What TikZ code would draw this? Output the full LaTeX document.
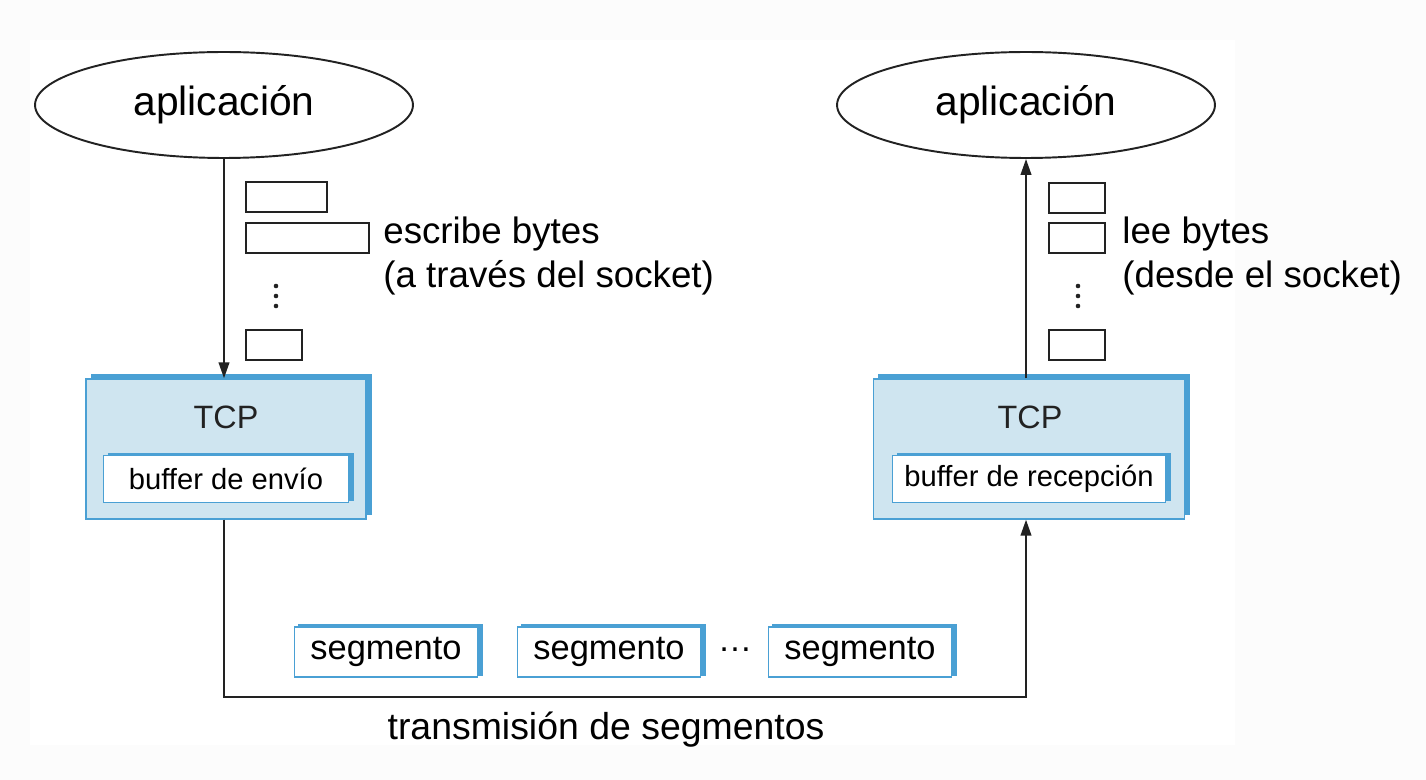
\documentclass[tikz,border=0pt]{standalone}
\usepackage{fontspec}
\setmainfont{Liberation Sans}
\usetikzlibrary{shapes.geometric,arrows.meta,shadows}
\definecolor{tcpfill}{RGB}{207,229,240}
\definecolor{tcpblue}{RGB}{74,160,212}
\definecolor{linegray}{RGB}{34,34,34}
\begin{document}
\begin{tikzpicture}[x=0.02cm,y=-0.02cm,
    app/.style={ellipse,draw=linegray,line width=1.1pt,inner sep=0pt,
        minimum width=7.56cm,minimum height=2.12cm,font=\fontsize{23.2}{27}\selectfont},
    tcpbox/.style={rectangle,draw=tcpblue,fill=tcpfill,line width=0.8pt,
        minimum height=2.8cm,
        drop shadow={shadow xshift=3pt,shadow yshift=2.6pt,fill=tcpblue,draw=tcpblue,opacity=1}},
    bufbox/.style={rectangle,draw=tcpblue,fill=white,line width=0.8pt,inner sep=0pt,
        minimum height=0.94cm,font=\fontsize{16.6}{20}\selectfont,
        drop shadow={shadow xshift=3pt,shadow yshift=1.2pt,fill=tcpblue,draw=tcpblue,opacity=1}},
    segbox/.style={rectangle,draw=tcpblue,fill=white,line width=0.8pt,inner sep=0pt,
        minimum width=3.66cm,minimum height=1.0cm,font=\fontsize{19.6}{23}\selectfont,
        drop shadow={shadow xshift=2.6pt,shadow yshift=1.2pt,fill=tcpblue,draw=tcpblue,opacity=1}},
    databox/.style={rectangle,draw=linegray,line width=0.8pt,inner sep=0pt,minimum height=0.6cm},
    tcplbl/.style={text=linegray,font=\fontsize{18.4}{22}\selectfont},
    sidelbl/.style={anchor=west,align=left,inner sep=0pt,font=\fontsize{20.9}{25}\selectfont},
    arr/.style={draw=linegray,line width=1.1pt,-{Triangle[length=9pt,width=6pt]}}]
    \useasboundingbox (0,0) rectangle (1426,780);
    \fill[gray!2.5] (0,0) rectangle (1426,780);
    \fill[white] (30,40) rectangle (1235,745);

    % aplicaciones
    \node[app] (appL) at (224,105) {aplicación};
    \node[app] (appR) at (1026,105) {aplicación};

    % TCP
    \node[tcpbox,minimum width=5.6cm] (tcpL) at (226,449) {};
    \node[tcpbox,minimum width=6.22cm] (tcpR) at (1029,449) {};
    \node[tcplbl] (tcpLlbl) at (226,417) {TCP};
    \node[tcplbl] (tcpRlbl) at (1030,417) {TCP};
    \node[bufbox,minimum width=4.9cm] (bufL) at (226,479) {buffer de envío\hspace{10pt}};
    \node[bufbox,minimum width=5.46cm] (bufR) at (1029,479) {buffer de recepción};

    % bytes
    \node[databox,minimum width=1.62cm] (byteL1) at (286.5,197) {};
    \node[databox,minimum width=2.46cm] (byteL2) at (307.5,238) {};
    \node[databox,minimum width=1.12cm] (byteL3) at (274,345) {};
    \node[databox,minimum width=1.12cm] (byteR1) at (1077,198) {};
    \node[databox,minimum width=1.12cm] (byteR2) at (1077,238) {};
    \node[databox,minimum width=1.12cm] (byteR3) at (1077,345) {};
    \foreach \y in {286,296,306} {
        \fill[linegray] (276,\y) circle (1.3pt);
        \fill[linegray] (1078,\y) circle (1.3pt);
    }
    \node[sidelbl] (escribe) at (383,256) {escribe bytes\\(a través del socket)};
    \node[sidelbl] (lee) at (1122,256) {lee bytes\\(desde el socket)};

    % segmentos
    \node[segbox] (seg1) at (386,652) {segmento};
    \node[segbox] (seg2) at (609,652) {segmento};
    \node[font=\fontsize{19.6}{23}\selectfont] (segdots) at (735,650) {\textellipsis};
    \node[segbox] (seg3) at (860,652) {segmento};
    \coordinate (bus) at (600,697);
    \node[font=\fontsize{21.3}{25}\selectfont] (trans) at (606,730) {transmisión de segmentos};

    \draw[arr] (appL.south) -- (appL.south |- tcpL.north);
    \draw[arr] (appR.south |- tcpR.north) -- (appR.south);
    \draw[arr] (appL.south |- tcpL.south) -- (appL.south |- bus) -| (appR.south |- tcpR.south);
\end{tikzpicture}
\end{document}
